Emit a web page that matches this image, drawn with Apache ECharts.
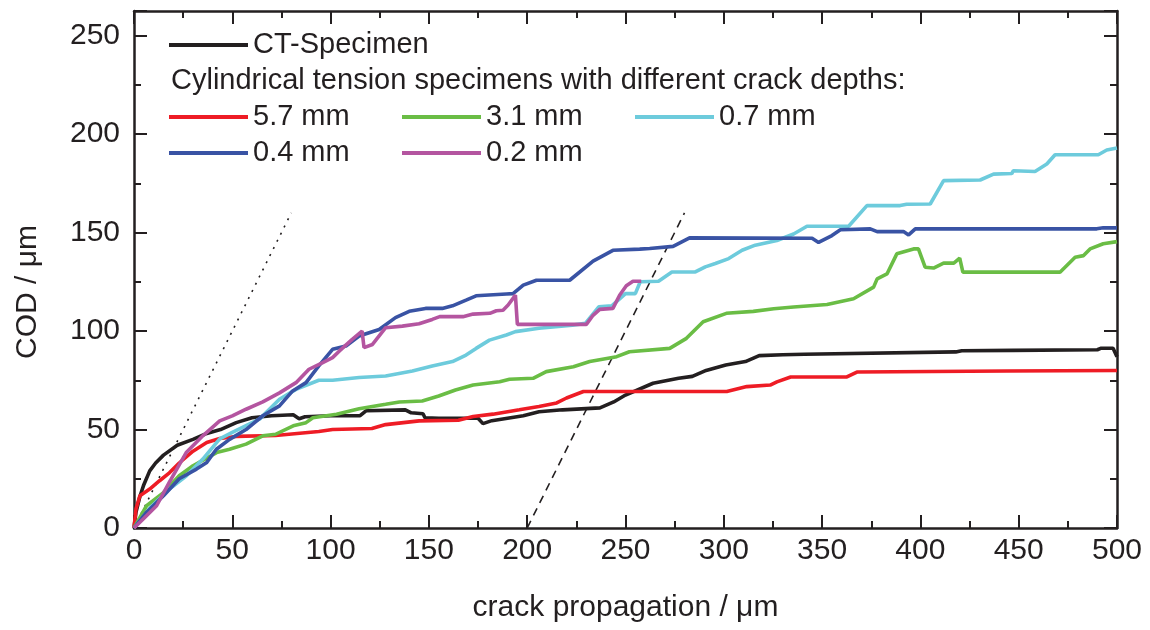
<!DOCTYPE html>
<html>
<head>
<meta charset="utf-8">
<script src="https://cdn.jsdelivr.net/npm/echarts@6/dist/echarts.min.js"></script>
<style>
  html, body { margin: 0; padding: 0; background: #fff; }
  #chart { width: 1150px; height: 630px; }
</style>
</head>
<body>
<div id="chart"></div>
<script>
// COD vs crack propagation ([x in um, COD in um])
var ctSpecimen = [[0,0],[1,8],[3,16],[5,22],[8,29],[11,33],[15,37],[22,42],[30,45],[37,48],[44,50],[52,53.5],[60,56],[70,57],[81,57.5],[84,55.5],[87,56.5],[100,57],[115,57],[118,59.5],[138,60],[141,58.5],[147,58],[148,56],[155,55.7],[175,55.7],[177.5,53],[182,54.5],[198,57],[206,59],[218,60],[237,61],[244,64],[250,67.5],[264,73.5],[277,76],[284,77],[291,80],[301,82.8],[311,84.5],[318,87.5],[330,88],[341,88.2],[418,89.4],[421,90],[447,90.2],[490,90.5],[492,91.3],[498,91.3],[500,87]];
var depth57 = [[0,0],[1,9.6],[3,16.4],[8,19.8],[13,24],[18,28],[23,33],[30,39],[37,43.4],[43.6,45.4],[52,46.5],[72,47],[94,49],[101,50],[121,50.5],[128,52.5],[145,54.4],[165,54.7],[172.5,56.6],[182.6,57.8],[196,60],[206,61.7],[215,63.5],[220,66],[228.6,69.3],[301.5,69.3],[311.7,71.8],[323.6,72.6],[327,74.2],[334,76.7],[362.6,76.7],[367.7,79.2],[444,79.7],[500,80]];
var depth31 = [[0,0],[6.4,11.3],[15,18],[23,26.5],[30,31.6],[42,38.3],[48.6,40],[57,42.6],[65.5,46.8],[72,47.6],[81,51.9],[87.5,53.5],[91,56],[103,57.8],[114.5,60.5],[128,62.8],[135,64],[146.6,64.5],[155,67],[163.5,70.1],[172.5,72.6],[186,74.3],[191,75.5],[203,76],[209.7,79.4],[223.5,81.9],[231.8,84.5],[245.5,87],[252,89.5],[272.5,91.2],[281,96.3],[289.5,104.7],[301.3,109],[315,110],[325.4,111.3],[335.5,112.2],[352.5,113.5],[366,116.4],[376.2,122.3],[378,126.5],[383,129],[388,139.2],[396.5,141.7],[399,141.7],[402.4,132.4],[406.7,132],[411.8,134.5],[417,134.5],[420,137],[421.6,129.9],[471,129.9],[478.7,137.5],[483,138.3],[486.3,141.7],[493,144.3],[500,145.4]];
var depth07 = [[0,0],[8,10],[18,19.8],[26.7,26.5],[35,35],[43.6,45.3],[50,48.6],[64,55.4],[74,65.4],[82.4,70.4],[94,75],[101,75],[114.5,76.4],[128,77.2],[141.6,79.7],[151.7,82.3],[162,84.5],[168.9,87.8],[174,91.2],[180.8,95.4],[189.4,98],[194,99.7],[206,101.4],[223,103],[229.6,103.9],[236.4,112.3],[243,112.8],[250,119],[255,119],[257.5,125],[266.8,125.3],[273.6,130],[285.5,130],[290.6,132.6],[295.7,134.3],[302.5,136.8],[309.3,141],[316,143.6],[327,146],[335.5,149.3],[342.3,153.2],[363.5,153.2],[372.8,163.7],[389.7,163.7],[393,164.4],[405,164.5],[411.8,176.4],[430.4,176.7],[437.2,179.7],[446.5,180],[447.3,181.4],[458.3,181],[464.3,184.8],[468.5,189.5],[490.5,189.5],[494.8,191.9],[500,192.9]];
var depth04 = [[0,0],[6.4,8],[15,16.4],[23,25],[31.8,29.9],[37,33.3],[41.9,40],[48.6,45],[57,50],[65.5,57],[74,62],[80.7,69.6],[87.5,73.8],[94,82.3],[101,90.7],[107.8,92.4],[114.5,97.5],[124.7,100.8],[133,106.8],[140,110],[148.3,111.5],[156.8,111.5],[162,112.8],[168.9,115.7],[174,117.9],[189.4,118.8],[192.8,119],[198,123.3],[204.7,125.8],[221.6,125.8],[233.5,135.5],[243.6,141],[257.2,141.6],[262.3,141.9],[274.2,143],[282.6,147.3],[344.9,147.1],[348.2,145],[355,148.5],[359.3,151.4],[374.5,151.9],[378,150.5],[391.4,150.5],[394,148.8],[397.4,151.9],[489.7,151.9],[493,152.4],[500,152.4]];
var depth02 = [[0,0],[4.7,4.6],[11.5,11.3],[18,23.3],[26.7,38.5],[35,46.8],[43.6,54.4],[50,56.9],[57,60.3],[65.5,64],[74,68.6],[82.4,73.8],[89,80.6],[96,84],[101,86.5],[104.5,89.9],[111,95.8],[116,100],[117,91.6],[121.3,93.2],[128,101.7],[136.5,102.5],[145,103.7],[151.7,105.9],[155.5,107.3],[167.3,107.3],[172.5,108.6],[181,109],[184.3,110.3],[187.7,110.6],[190.3,113.2],[192.8,116.6],[194,118.2],[195,103.4],[230.1,103.4],[233.5,108],[236.9,111],[243.6,111.5],[247,118.2],[250.4,123],[253.8,125.3],[258,125.3]];
// slope guide lines
var dottedGuide = [[0,0],[80,160]];
var dashedGuide = [[200,0],[280,160]];

var xTicks = [0, 50, 100, 150, 200, 250, 300, 350, 400, 450, 500];
var yTicks = [0, 50, 100, 150, 200, 250];

chartInit();

function chartInit() {
    var dom = document.getElementById('chart');
    var myChart = echarts.init(dom, null, { renderer: 'canvas' });
    var ink = '#231f20';
    var font = 'Liberation Sans, Arial, sans-serif';

    function frameAxis(pos, isX, showLabel) {
        var ax = {
            type: 'value',
            position: pos,
            min: 0,
            max: isX ? 500 : 262.5,
            interval: 50,
            splitLine: { show: false },
            axisLine: { show: true, onZero: false, lineStyle: { color: ink, width: 2.5 } },
            axisTick: { show: true, inside: true, length: 13, lineStyle: { color: ink, width: 2 } },
            minorTick: { show: true, splitNumber: 2, length: 7, lineStyle: { color: ink, width: 2 } },
            axisLabel: {
                show: showLabel,
                color: ink,
                fontSize: 30,
                fontFamily: font,
                margin: isX ? 8 : 14,
                formatter: function (v) {
                    var list = isX ? xTicks : yTicks;
                    return list.indexOf(v) >= 0 ? String(v) : '';
                }
            }
        };
        return ax;
    }

    var xBottom = frameAxis('bottom', true, true);
    xBottom.name = 'crack propagation / \u03bcm';
    xBottom.nameLocation = 'middle';
    xBottom.nameGap = 65;
    xBottom.nameTextStyle = { color: ink, fontSize: 30, fontFamily: font };
    var yLeft = frameAxis('left', false, true);

    function curve(name, data, color) {
        return {
            name: name, type: 'line', data: data, symbol: 'none',
            lineStyle: { color: color, width: 3.6 }, itemStyle: { color: color },
            xAxisIndex: 0, yAxisIndex: 0, animation: false
        };
    }
    function guide(data, dash) {
        return {
            type: 'line', data: data, symbol: 'none', silent: true,
            lineStyle: { color: ink, width: 1.6, type: dash }, animation: false
        };
    }

    var legendText = { color: ink, fontSize: 29, fontFamily: font, width: 144, lineHeight: 30 };
    function legendRow(names, top) {
        return {
            data: names, left: 169, top: top, orient: 'horizontal',
            icon: 'rect', itemWidth: 79, itemHeight: 4, itemGap: 5,
            textStyle: legendText, selectedMode: false, padding: 0
        };
    }

    var option = {
        backgroundColor: '#fff',
        animation: false,
        grid: { left: 134, right: 33, top: 11, bottom: 102 },
        xAxis: [xBottom, frameAxis('top', true, false)],
        yAxis: [yLeft, frameAxis('right', false, false)],
        legend: [
            legendRow(['CT-Specimen'], 30),
            legendRow(['5.7 mm', '3.1 mm', '0.7 mm'], 102),
            legendRow(['0.4 mm', '0.2 mm'], 138)
        ],
        graphic: [{
            type: 'text', left: 171, top: 66,
            style: { text: 'Cylindrical tension specimens with different crack depths:', fill: ink, fontSize: 29, fontFamily: font }
        }, {
            type: 'text', x: 28, y: 292, rotation: Math.PI / 2,
            style: { text: 'COD / \u03bcm', fill: ink, fontSize: 30, fontFamily: font, align: 'center', verticalAlign: 'middle' }
        }],
        series: [
            guide(dottedGuide, [2, 6]),
            guide(dashedGuide, [8, 6]),
            curve('CT-Specimen', ctSpecimen, '#231f20'),
            curve('5.7 mm', depth57, '#ee1c25'),
            curve('3.1 mm', depth31, '#6abd45'),
            curve('0.7 mm', depth07, '#6dcbdc'),
            curve('0.4 mm', depth04, '#3953a4'),
            curve('0.2 mm', depth02, '#b455a0')
        ]
    };

    myChart.setOption(option);
    window.addEventListener('resize', myChart.resize);
}
</script>
</body>
</html>
